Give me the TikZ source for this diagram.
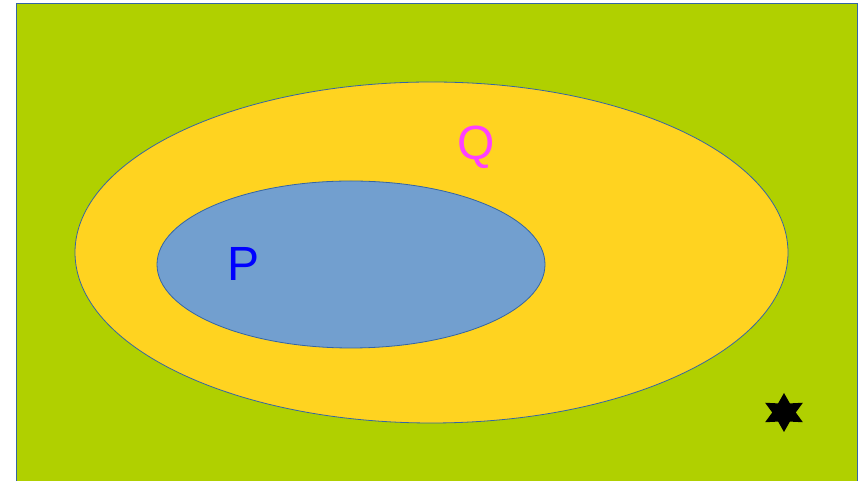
\documentclass[tikz,border=0pt]{standalone}
\usepackage{fontspec}
\setmainfont{Liberation Sans}
\definecolor{bggreen}{HTML}{B0D000}
\definecolor{qyellow}{HTML}{FFD320}
\definecolor{pblue}{HTML}{729FCF}
\definecolor{edge}{HTML}{3465A4}
\definecolor{qtext}{HTML}{FF40FF}
\definecolor{ptext}{HTML}{0000FF}
\begin{document}
\begin{tikzpicture}[x=1pt,y=1pt,
  setlabel/.style={font=\fontsize{48}{48}\selectfont, inner sep=0pt}]
\useasboundingbox (0,0) rectangle (863,481);
\fill[white] (0,0) rectangle (863,481);
\filldraw[fill=bggreen, draw=edge, line width=1.2pt] (16.5,-5) rectangle (857.5,477.5);
\filldraw[fill=qyellow, draw=edge, line width=0.8pt] (431.5,228.5) ellipse [x radius=356.5, y radius=170.5];
\filldraw[fill=pblue, draw=edge, line width=0.8pt] (351,216.5) ellipse [x radius=194, y radius=83.5];
\node[setlabel, text=qtext] (Q) at (476,334) {Q};
\node[setlabel, text=ptext] (P) at (244,217) {P};
\begin{scope}[shift={(784,68.5)}, xscale=1.12]
\fill[black] (90:19.5) -- (120:10.5) -- (150:19.5) -- (180:10.5) -- (210:19.5) -- (240:10.5) -- (270:19.5) -- (300:10.5) -- (330:19.5) -- (0:10.5) -- (30:19.5) -- (60:10.5) -- cycle;
\end{scope}
\end{tikzpicture}
\end{document}
